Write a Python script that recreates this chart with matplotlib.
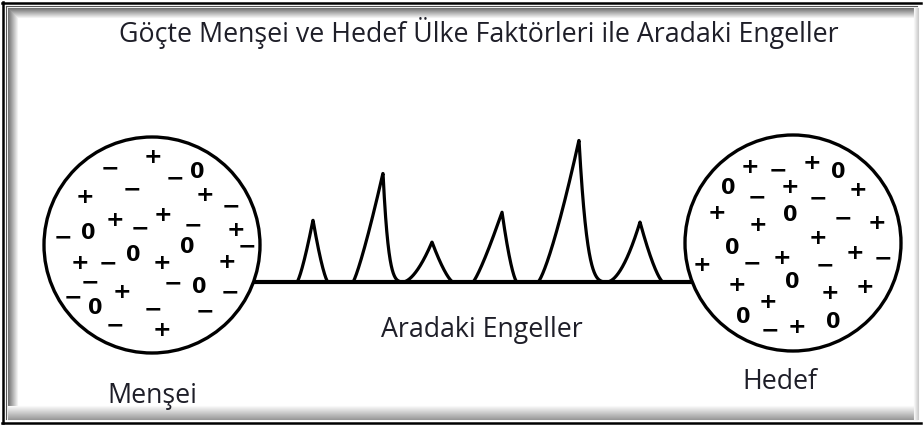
import numpy as np
import matplotlib.pyplot as plt
from matplotlib.patches import Circle

# başlık ve etiketler
title = "Göçte Menşei ve Hedef Ülke Faktörleri ile Aradaki Engeller"
middle_label = "Aradaki Engeller"
origin_label = "Menşei"
dest_label = "Hedef"

# aradaki engeller (tepe noktası x, yükseklik, sol/sağ genişlik, eğrilik)
peak_x = [313, 383, 432, 502, 579, 640]
peak_h = [62, 109, 40, 70, 142, 60]
left_w = [16, 30, 29, 29, 41, 33]
right_w = [15, 24, 21, 15, 30, 23]
left_p = [1.3, 1.2, 1.7, 1.2, 1.3, 1.8]
right_p = [1.4, 4.5, 1.4, 1.5, 3.8, 1.4]

# menşei dairesindeki işaretler
origin_signs = ['−', '+', '−', '0', '+', '−', '+', '−', '+', '+', '−', '−', '+', '−', '−', '0',
                '0', '+', '−', '0', '+', '+', '−', '−', '0', '+', '−', '−', '0', '−', '−', '−', '+']
origin_sx = [110, 153, 175, 197, 85, 132, 205, 231, 163, 115, 140, 193, 236, 247, 63, 88,
             187, 80, 108, 133, 162, 227, 90, 173, 199, 122, 73, 230, 95, 153, 205, 115, 162]
origin_sy = [168, 157, 178, 172, 197, 189, 195, 206, 215, 220, 228, 225, 230, 246, 237, 233,
             247, 263, 263, 255, 263, 262, 282, 283, 287, 292, 297, 292, 308, 309, 311, 325, 330]

# hedef dairesindeki işaretler
dest_signs = ['+', '−', '+', '0', '0', '−', '+', '−', '+', '+', '+', '0', '−', '+', '+', '0',
              '−', '+', '+', '−', '−', '+', '+', '0', '+', '+', '+', '0', '−', '+', '0']
dest_sx = [750, 778, 812, 838, 728, 757, 790, 818, 858, 717, 758, 790, 843, 877, 818, 732,
           752, 782, 855, 883, 825, 702, 737, 792, 830, 865, 768, 743, 770, 797, 833]
dest_sy = [167, 170, 163, 172, 188, 197, 187, 198, 190, 213, 225, 215, 218, 223, 238, 248,
           263, 258, 253, 258, 265, 265, 285, 282, 293, 287, 302, 317, 330, 327, 322]

W, H = 923, 425
base_y = 282

fig = plt.figure(figsize=(W / 100, H / 100), dpi=100)
ax = fig.add_axes([0, 0, 1, 1])
ax.set_xlim(0, W)
ax.set_ylim(H, 0)
ax.axis('off')

# çerçeve: sol/üst iç gölge, alt gölge, dış siyah çizgi
for k in range(10):
    g = 0.45 + 0.55 * k / 10
    ax.plot([8 + k, 8 + k], [8 + k, H - 10], color=(g, g, g), lw=0.8)
    ax.plot([8 + k, W - 6], [8 + k, 8 + k], color=(g, g, g), lw=0.8)
for k in range(14):
    g = 0.6 + 0.4 * k / 14
    ax.plot([8, W - 6], [H - 6 - k, H - 6 - k], color=(g, g, g), lw=0.8)
for k in range(5):
    g = 0.8 + 0.2 * k / 5
    ax.plot([W - 5 - k, W - 5 - k], [8, H - 6], color=(g, g, g), lw=0.8)
ax.plot([2.5, 2.5], [2, H - 2], color='black', lw=1.8)
ax.plot([2, W - 2], [2.5, 2.5], color='black', lw=1.8)
ax.plot([2, W - 2], [H - 2.5, H - 2.5], color='black', lw=1.8)
ax.plot([6, 6], [6, H - 6], color='#555555', lw=0.8)
ax.plot([6, W - 6], [6, 6], color='#555555', lw=0.8)

font_txt = ['Open Sans', 'DejaVu Sans']
tcol = '#1e1e28'
fs = 19.3
ax.text(479, 33, title, ha='center', va='center', fontsize=fs, color=tcol, family=font_txt)
ax.text(482, 330, middle_label, ha='center', va='center', fontsize=fs, color=tcol, family=font_txt)
ax.text(152, 396, origin_label, ha='center', va='center', fontsize=fs, color=tcol, family=font_txt)
ax.text(780, 382, dest_label, ha='center', va='center', fontsize=fs, color=tcol, family=font_txt)

# daireler
ax.add_patch(Circle((152, 245), 108, fill=False, ec='black', lw=2.4))
ax.add_patch(Circle((793, 243), 108, fill=False, ec='black', lw=2.4))

for s, x, y in zip(origin_signs + dest_signs, origin_sx + dest_sx, origin_sy + dest_sy):
    size = 15 if s == '0' else 16
    ax.text(x, y, s, ha='center', va='center', fontsize=size, fontweight='bold',
            family='DejaVu Sans')

# aradaki çizgi ve engeller
ax.plot([253, 692], [base_y, base_y], color='black', lw=3, solid_capstyle='butt')

xs = np.linspace(258, 688, 3000)
prof = np.zeros_like(xs)
for x0, h, wl, wr, pl, pr in zip(peak_x, peak_h, left_w, right_w, left_p, right_p):
    m = (xs <= x0) & (xs > x0 - wl)
    prof[m] += h * (1 - (x0 - xs[m]) / wl) ** pl
    m = (xs > x0) & (xs < x0 + wr)
    prof[m] += h * (1 - (xs[m] - x0) / wr) ** pr
ax.plot(xs, base_y - prof, color='black', lw=2.3, solid_joinstyle='round')

fig.savefig('out.png', dpi=100)
